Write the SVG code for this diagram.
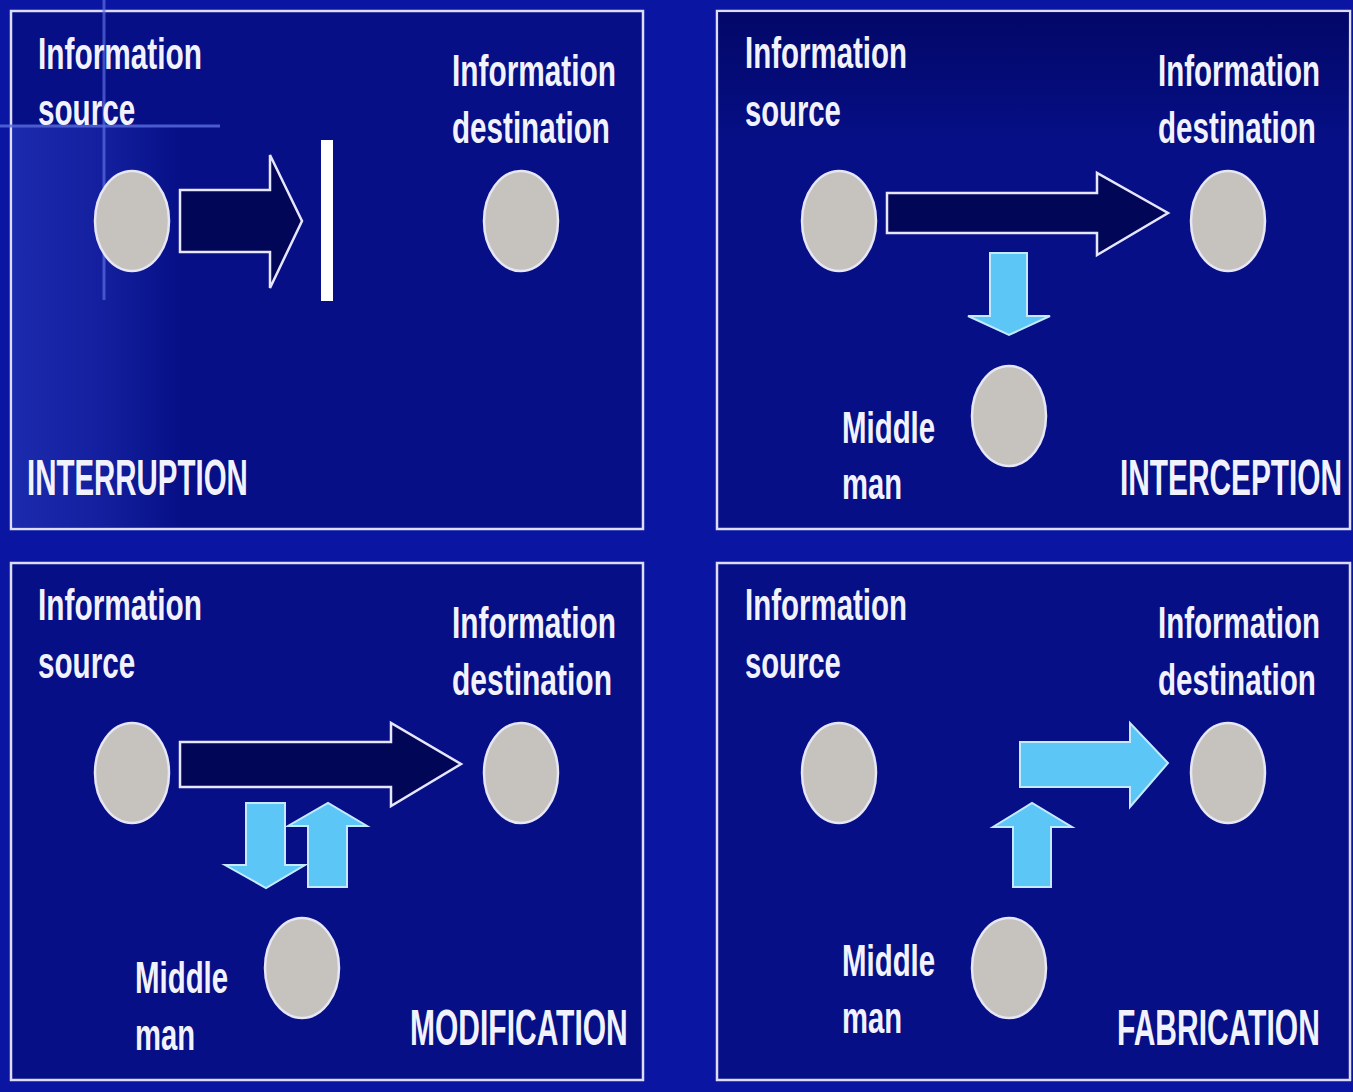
<svg xmlns="http://www.w3.org/2000/svg" width="1353" height="1092" viewBox="0 0 1353 1092">
<defs>
<style>
.panel{fill:#060f86;stroke:#dcdcf6;stroke-width:2.5}
.node{fill:#c6c2bd;stroke:#e6e6f6;stroke-width:2.5}
.lbl{font-family:"Liberation Sans",Arial,sans-serif;font-weight:bold;font-size:44px;fill:#f2f2fc}
.big{font-size:50px}
.oarrow{fill:#020656;stroke:#e6e6ff;stroke-width:2.5;stroke-linejoin:miter}
.barrow{fill:#5cc6f6;stroke:#c4eaff;stroke-width:2}
.bar{fill:#ffffff}
</style>
<linearGradient id="leftGlow" x1="0" y1="0" x2="1" y2="0">
<stop offset="0" stop-color="#2a3cc8" stop-opacity="0.6"/>
<stop offset="0.55" stop-color="#2a3cc8" stop-opacity="0.35"/>
<stop offset="1" stop-color="#2a3cc8" stop-opacity="0"/>
</linearGradient>
<linearGradient id="topDark" x1="0" y1="0" x2="0" y2="1">
<stop offset="0" stop-color="#00045a" stop-opacity="0.7"/>
<stop offset="1" stop-color="#00045a" stop-opacity="0"/>
</linearGradient>
</defs>
<rect x="0" y="0" width="1353" height="1092" fill="#0a16a2"/>

<g id="panels">
<rect id="panel-interruption" class="panel" x="11" y="11" width="632" height="518"/>
<rect id="panel-interception" class="panel" x="717" y="11" width="633" height="518"/>
<rect id="panel-modification" class="panel" x="11" y="563" width="632" height="517"/>
<rect id="panel-fabrication" class="panel" x="717" y="563" width="633" height="517"/>
<rect x="12" y="127" width="170" height="400" fill="url(#leftGlow)"/>
<rect x="718" y="12" width="631" height="130" fill="url(#topDark)"/>
<line x1="0" y1="126" x2="220" y2="126" stroke="#5a6ee0" stroke-width="3" opacity="0.8"/>
<line x1="104" y1="0" x2="104" y2="300" stroke="#5a6ee0" stroke-width="3" opacity="0.7"/>
</g>

<g id="connectors">
<path id="tl-arrow" class="oarrow" d="M180,190 H270 V155 L302,221 L270,288 V252 H180 Z"/>
<rect id="tl-barrier" class="bar" x="321" y="140" width="12" height="161"/>
<path id="tr-arrow" class="oarrow" d="M887,193 H1097 V173 L1168,213 L1097,255 V233 H887 Z"/>
<path id="tr-down" class="barrow" d="M990,253 H1027 V316 H1050 L1009,335 L968,316 H990 Z"/>
<path id="bl-arrow" class="oarrow" d="M180,742 H391 V723 L461,764 L391,806 V787 H180 Z"/>
<path id="bl-down" class="barrow" d="M246,803 H285 V865 H305 L266,888 L225,865 H246 Z"/>
<path id="bl-up" class="barrow" d="M308,887 H347 V826 H367 L328,803 L288,826 H308 Z"/>
<path id="br-arrow" class="barrow" d="M1020,742 H1130 V723 L1168,763 L1130,807 V787 H1020 Z"/>
<path id="br-up" class="barrow" d="M1013,887 H1051 V827 H1072 L1032,803 L993,827 H1013 Z"/>
</g>

<g id="tl-source">
<ellipse class="node" cx="132" cy="221" rx="37" ry="50"/>
<text class="lbl" transform="translate(38,69) scale(0.675,1)" x="0" y="0" textLength="243" lengthAdjust="spacingAndGlyphs">Information</text>
<text class="lbl" transform="translate(38,125) scale(0.675,1)" x="0" y="0" textLength="144" lengthAdjust="spacingAndGlyphs">source</text>
</g>
<g id="tl-dest">
<ellipse class="node" cx="521" cy="221" rx="37" ry="50"/>
<text class="lbl" transform="translate(452,86) scale(0.675,1)" x="0" y="0" textLength="243" lengthAdjust="spacingAndGlyphs">Information</text>
<text class="lbl" transform="translate(452,143) scale(0.675,1)" x="0" y="0" textLength="234" lengthAdjust="spacingAndGlyphs">destination</text>
</g>
<g id="tl-title"><text class="lbl big" transform="translate(27,495) scale(0.6,1)" x="0" y="0" textLength="368" lengthAdjust="spacingAndGlyphs">INTERRUPTION</text></g>

<g id="tr-source">
<ellipse class="node" cx="839" cy="221" rx="37" ry="50"/>
<text class="lbl" transform="translate(745,68) scale(0.675,1)" x="0" y="0" textLength="240" lengthAdjust="spacingAndGlyphs">Information</text>
<text class="lbl" transform="translate(745,126) scale(0.675,1)" x="0" y="0" textLength="142" lengthAdjust="spacingAndGlyphs">source</text>
</g>
<g id="tr-dest">
<ellipse class="node" cx="1228" cy="221" rx="37" ry="50"/>
<text class="lbl" transform="translate(1158,86) scale(0.675,1)" x="0" y="0" textLength="240" lengthAdjust="spacingAndGlyphs">Information</text>
<text class="lbl" transform="translate(1158,143) scale(0.675,1)" x="0" y="0" textLength="234" lengthAdjust="spacingAndGlyphs">destination</text>
</g>
<g id="tr-middle">
<ellipse class="node" cx="1009" cy="416" rx="37" ry="50"/>
<text class="lbl" transform="translate(842,443) scale(0.675,1)" x="0" y="0" textLength="138" lengthAdjust="spacingAndGlyphs">Middle</text>
<text class="lbl" transform="translate(842,499) scale(0.675,1)" x="0" y="0" textLength="89" lengthAdjust="spacingAndGlyphs">man</text>
</g>
<g id="tr-title"><text class="lbl big" transform="translate(1120,495) scale(0.6,1)" x="0" y="0" textLength="370" lengthAdjust="spacingAndGlyphs">INTERCEPTION</text></g>

<g id="bl-source">
<ellipse class="node" cx="132" cy="773" rx="37" ry="50"/>
<text class="lbl" transform="translate(38,620) scale(0.675,1)" x="0" y="0" textLength="243" lengthAdjust="spacingAndGlyphs">Information</text>
<text class="lbl" transform="translate(38,678) scale(0.675,1)" x="0" y="0" textLength="144" lengthAdjust="spacingAndGlyphs">source</text>
</g>
<g id="bl-dest">
<ellipse class="node" cx="521" cy="773" rx="37" ry="50"/>
<text class="lbl" transform="translate(452,638) scale(0.675,1)" x="0" y="0" textLength="243" lengthAdjust="spacingAndGlyphs">Information</text>
<text class="lbl" transform="translate(452,695) scale(0.675,1)" x="0" y="0" textLength="237" lengthAdjust="spacingAndGlyphs">destination</text>
</g>
<g id="bl-middle">
<ellipse class="node" cx="302" cy="968" rx="37" ry="50"/>
<text class="lbl" transform="translate(135,993) scale(0.675,1)" x="0" y="0" textLength="138" lengthAdjust="spacingAndGlyphs">Middle</text>
<text class="lbl" transform="translate(135,1050) scale(0.675,1)" x="0" y="0" textLength="89" lengthAdjust="spacingAndGlyphs">man</text>
</g>
<g id="bl-title"><text class="lbl big" transform="translate(410,1045) scale(0.6,1)" x="0" y="0" textLength="363" lengthAdjust="spacingAndGlyphs">MODIFICATION</text></g>

<g id="br-source">
<ellipse class="node" cx="839" cy="773" rx="37" ry="50"/>
<text class="lbl" transform="translate(745,620) scale(0.675,1)" x="0" y="0" textLength="240" lengthAdjust="spacingAndGlyphs">Information</text>
<text class="lbl" transform="translate(745,678) scale(0.675,1)" x="0" y="0" textLength="142" lengthAdjust="spacingAndGlyphs">source</text>
</g>
<g id="br-dest">
<ellipse class="node" cx="1228" cy="773" rx="37" ry="50"/>
<text class="lbl" transform="translate(1158,638) scale(0.675,1)" x="0" y="0" textLength="240" lengthAdjust="spacingAndGlyphs">Information</text>
<text class="lbl" transform="translate(1158,695) scale(0.675,1)" x="0" y="0" textLength="234" lengthAdjust="spacingAndGlyphs">destination</text>
</g>
<g id="br-middle">
<ellipse class="node" cx="1009" cy="968" rx="37" ry="50"/>
<text class="lbl" transform="translate(842,976) scale(0.675,1)" x="0" y="0" textLength="138" lengthAdjust="spacingAndGlyphs">Middle</text>
<text class="lbl" transform="translate(842,1033) scale(0.675,1)" x="0" y="0" textLength="89" lengthAdjust="spacingAndGlyphs">man</text>
</g>
<g id="br-title"><text class="lbl big" transform="translate(1117,1045) scale(0.6,1)" x="0" y="0" textLength="338" lengthAdjust="spacingAndGlyphs">FABRICATION</text></g>
</svg>
